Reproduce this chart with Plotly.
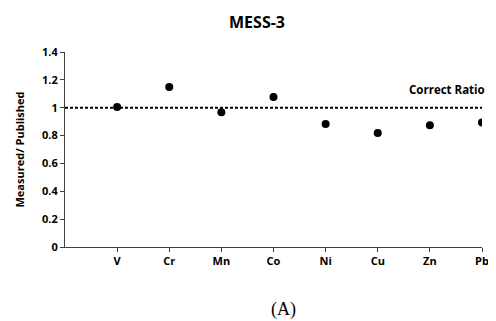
import plotly.graph_objects as go

elements = ["V", "Cr", "Mn", "Co", "Ni", "Cu", "Zn", "Pb"]
ratios = [1.005, 1.148, 0.967, 1.077, 0.883, 0.818, 0.874, 0.893]
correct_ratio = 1.0
y_ticks = [0, 0.2, 0.4, 0.6, 0.8, 1, 1.2, 1.4]

xpos = list(range(1, len(elements) + 1))
font = "Open Sans"

# page body has an 8px margin, so the figure is sized to fit the 496x321 window
W, H = 488, 313
ML, MR, MT, MB = 57, 7, 44, 74
PW = W - ML - MR

fig = go.Figure()
fig.add_trace(go.Scatter(
    x=[0, len(elements)], y=[correct_ratio, correct_ratio], mode="lines",
    line=dict(color="black", width=2, dash="3px,2px"), hoverinfo="skip", showlegend=False))
fig.add_trace(go.Scatter(
    x=xpos, y=ratios, mode="markers",
    marker=dict(color="black", size=8), showlegend=False))

fig.add_annotation(x=len(elements), y=correct_ratio, xref="x", yref="y",
                   text="<b>Correct Ratio</b>", showarrow=False,
                   xanchor="right", yanchor="bottom", yshift=9, xshift=5,
                   font=dict(family=font, size=11.5, color="black"))
fig.add_annotation(x=(279 - ML) / PW, y=0.0, xref="paper", yref="paper", yshift=-62,
                   text="(A)", showarrow=False, xanchor="center", yanchor="middle",
                   font=dict(family="Liberation Serif", size=18, color="black"))

fig.update_layout(
    width=W, height=H,
    margin=dict(l=ML, r=MR, t=MT, b=MB),
    paper_bgcolor="white", plot_bgcolor="white",
    title=dict(text="<b>MESS-3</b>", x=249 / W, xanchor="center", y=1 - 14 / H, yanchor="middle",
               font=dict(family=font, size=16, color="black")),
    xaxis=dict(range=[0, len(elements)], tickvals=xpos, ticktext=[f"<b>{e}</b>" for e in elements],
               showgrid=False, zeroline=False, showline=True, linecolor="#404040", linewidth=1,
               ticks="outside", ticklen=4, tickcolor="#404040",
               tickfont=dict(family=font, size=11, color="black")),
    yaxis=dict(range=[0, 1.4], tickvals=y_ticks, ticktext=[f"<b>{v:g}</b>" for v in y_ticks],
               showgrid=False, zeroline=False, showline=True, linecolor="#404040", linewidth=1,
               ticks="outside", ticklen=4, tickcolor="#404040",
               tickfont=dict(family=font, size=11, color="black"),
               title=dict(text="<b>Measured/ Published</b>", standoff=15,
                          font=dict(family=font, size=11, color="black"))),
)

fig.write_html("out.html")
